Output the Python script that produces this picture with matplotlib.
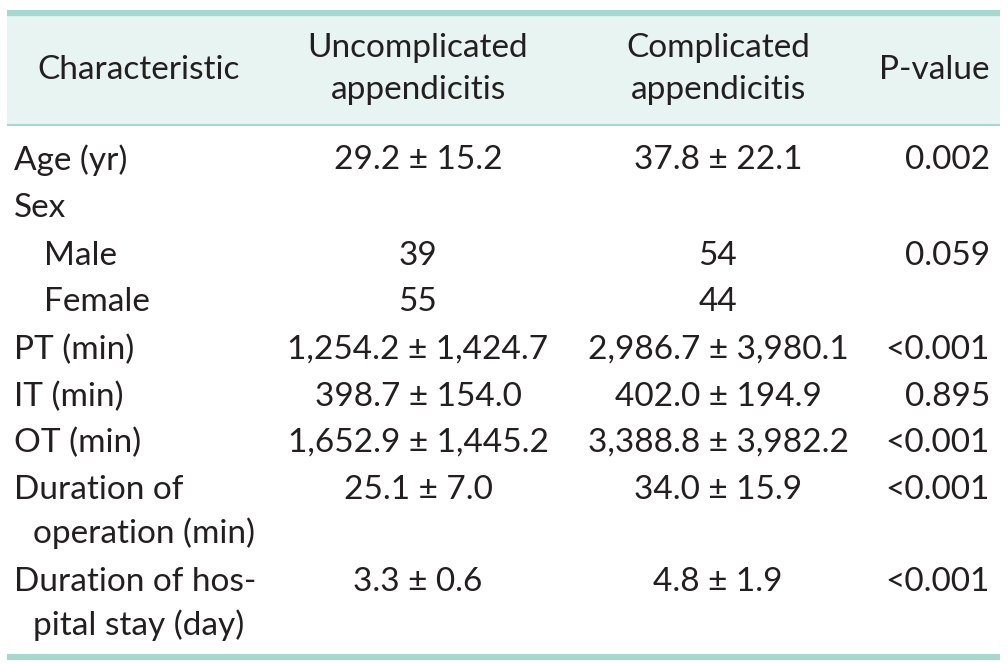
import matplotlib.pyplot as plt
from matplotlib.patches import Rectangle

# ---------------- data ----------------
header_char = "Characteristic"
header_groups = ["Uncomplicated\nappendicitis", "Complicated\nappendicitis"]
header_p = "P-value"

row_labels = ["Age (yr)", "Sex", "  Male", "  Female", "PT (min)", "IT (min)",
              "OT (min)", "Duration of\n  operation (min)", "Duration of hos-\n  pital stay (day)"]
uncomplicated = ["29.2 ± 15.2", "", "39", "55", "1,254.2 ± 1,424.7", "398.7 ± 154.0",
                 "1,652.9 ± 1,445.2", "25.1 ± 7.0", "3.3 ± 0.6"]
complicated = ["37.8 ± 22.1", "", "54", "44", "2,986.7 ± 3,980.1", "402.0 ± 194.9",
               "3,388.8 ± 3,982.2", "34.0 ± 15.9", "4.8 ± 1.9"]
p_values = ["0.002", "", "0.059", "", "<0.001", "0.895", "<0.001", "<0.001", "<0.001"]

# row centre positions (pixels)
row_y = [160, 208, 256, 302, 350, 397, 443, 490, 582]

# ---------------- layout ----------------
W, H = 1008, 665
fig = plt.figure(figsize=(W / 100, H / 100), dpi=100)
ax = fig.add_axes([0, 0, 1, 1])
ax.set_xlim(0, W)
ax.set_ylim(H, 0)
ax.axis("off")

teal = "#a5d9cf"
bg = "#e7f4f1"
txt = "#231f20"
fs = 24
font = "Lato"
wt = "normal"

ax.add_patch(Rectangle((7, 15), 993, 110, color=bg, lw=0))
ax.plot([7, 1000], [12.5, 12.5], color=teal, lw=4.5, solid_capstyle="butt")
ax.plot([7, 1000], [125, 125], color=teal, lw=1.5, solid_capstyle="butt")
ax.plot([7, 1000], [657, 657], color=teal, lw=4.5, solid_capstyle="butt")

col_u, col_c, col_p = 418, 718, 990

kw = dict(fontsize=fs, color=txt, family=font, fontweight=wt)
ax.text(37, 70, header_char, ha="left", va="center", **kw)
for cx, h in zip([col_u, col_c], header_groups):
    top, bot = h.split("\n")
    ax.text(cx, 48, top, ha="center", va="center", **kw)
    ax.text(cx, 90, bot, ha="center", va="center", **kw)
ax.text(col_p, 70, header_p, ha="right", va="center", **kw)

for y, lab, u, c, p in zip(row_y, row_labels, uncomplicated, complicated, p_values):
    lines = lab.split("\n")
    for k, ln in enumerate(lines):
        x = 14
        if ln.startswith("  "):
            x = 44 if len(lines) == 1 else 33
            ln = ln.strip()
        ax.text(x, y + 43 * k, ln, ha="left", va="center", **kw)
    ax.text(col_u, y, u, ha="center", va="center", **kw)
    ax.text(col_c, y, c, ha="center", va="center", **kw)
    ax.text(col_p, y, p, ha="right", va="center", **kw)

fig.savefig("out.png", dpi=100)
